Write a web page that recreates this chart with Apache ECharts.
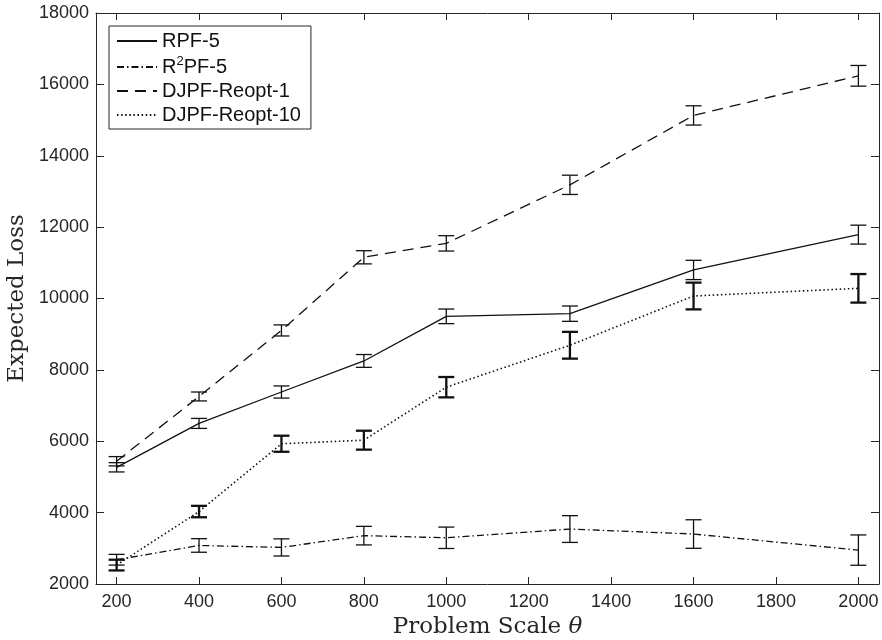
<!DOCTYPE html>
<html>
<head>
<meta charset="utf-8">
<script src="https://cdn.jsdelivr.net/npm/echarts@6/dist/echarts.min.js"></script>
<style>
  html, body { margin: 0; padding: 0; background: #fff; }
  #chart { width: 882px; height: 640px; }
</style>
</head>
<body>
<div id="chart"></div>
<script>
// Problem scale values on the x axis
const scales = [200, 400, 600, 800, 1000, 1300, 1600, 2000];
const xTicks = [200, 400, 600, 800, 1000, 1200, 1400, 1600, 1800, 2000];

// Expected loss (mean) and error-bar half-widths for each method
const rpf5 = [5270, 6500, 7380, 8250, 9500, 9575, 10800, 11790];
const rpf5Err = [130, 140, 170, 180, 205, 215, 270, 265];

const r2pf5 = [2680, 3080, 3025, 3355, 3295, 3540, 3400, 2950];
const r2pf5Err = [150, 190, 240, 260, 300, 375, 400, 425];

const djpf1 = [5440, 7255, 9105, 11155, 11545, 13185, 15130, 16240];
const djpf1Err = [130, 125, 155, 185, 215, 270, 270, 290];

const djpf10 = [2530, 4030, 5930, 6030, 7515, 8690, 10070, 10285];
const djpf10Err = [150, 160, 225, 265, 285, 375, 375, 400];

const names = ['RPF-5', 'R2PF-5', 'DJPF-Reopt-1', 'DJPF-Reopt-10'];

const INK = '#111';
const FRAME = '#262626';

function lineSeries(name, vals, dash, width) {
  return {
    type: 'line',
    name: name,
    data: scales.map((x, i) => [x, vals[i]]),
    symbol: 'none',
    lineStyle: { color: INK, width: width, type: dash },
    itemStyle: { color: INK },
    z: 2,
    animation: false
  };
}

function errorSeries(vals, errs, width) {
  return {
    type: 'custom',
    data: scales.map((x, i) => [x, vals[i] - errs[i], vals[i] + errs[i]]),
    encode: { x: 0, y: [1, 2] },
    z: 3,
    animation: false,
    renderItem: function (params, api) {
      const x = api.value(0);
      const lo = api.coord([x, api.value(1)]);
      const hi = api.coord([x, api.value(2)]);
      const hw = 8;
      const style = { stroke: INK, lineWidth: width, fill: null };
      return {
        type: 'group',
        children: [
          { type: 'line', shape: { x1: lo[0], y1: lo[1], x2: hi[0], y2: hi[1] }, style: style },
          { type: 'line', shape: { x1: lo[0] - hw, y1: lo[1], x2: lo[0] + hw, y2: lo[1] }, style: style },
          { type: 'line', shape: { x1: hi[0] - hw, y1: hi[1], x2: hi[0] + hw, y2: hi[1] }, style: style }
        ]
      };
    }
  };
}

const tickFont = { fontFamily: 'Liberation Sans', fontSize: 18, color: FRAME };
const plain = v => String(v);

const baseX = {
  type: 'value', min: 150, max: 2050,
  axisLine: { show: true, onZero: false, lineStyle: { color: FRAME, width: 1 } },
  axisTick: { show: true, inside: true, length: 7, customValues: xTicks, lineStyle: { color: FRAME } },
  splitLine: { show: false }
};
const baseY = {
  type: 'value', min: 2000, max: 18000, interval: 2000,
  axisLine: { show: true, onZero: false, lineStyle: { color: FRAME, width: 1 } },
  axisTick: { show: true, inside: true, length: 8, lineStyle: { color: FRAME } },
  splitLine: { show: false }
};

const chart = echarts.init(document.getElementById('chart'), null, { renderer: 'canvas' });
chart.setOption({
  backgroundColor: '#fff',
  animation: false,
  grid: { left: 96, right: 3, top: 13, bottom: 56, containLabel: false, outerBoundsMode: 'none' },
  legend: {
    data: names,
    left: 109, top: 26,
    orient: 'vertical',
    itemWidth: 40, itemHeight: 14, itemGap: 4, itemTextGap: 5,
    padding: [5, 10, 4, 7],
    borderColor: FRAME, borderWidth: 1,
    backgroundColor: '#fff',
    selectedMode: false,
    itemStyle: { opacity: 0 },
    formatter: function (name) {
      if (name === 'R2PF-5') return '{n|R}{sup|2}{n|PF-5}';
      return '{n|' + name + '}';
    },
    textStyle: {
      fontFamily: 'Liberation Sans', fontSize: 20, color: INK,
      rich: {
        n: { fontFamily: 'Liberation Sans', fontSize: 20, lineHeight: 20, verticalAlign: 'bottom', color: INK },
        sup: { fontFamily: 'Liberation Sans', fontSize: 13, lineHeight: 13, verticalAlign: 'bottom', padding: [0, 0, 9, 0], color: INK }
      }
    }
  },
  xAxis: [
    Object.assign({}, baseX, {
      position: 'bottom',
      axisLabel: Object.assign({ show: true, margin: 9, customValues: xTicks, formatter: plain }, tickFont),
      name: '{t|Problem Scale }{i|θ}',
      nameLocation: 'middle',
      nameGap: 30,
      nameTextStyle: {
        rich: {
          t: { fontFamily: 'DejaVu Serif', fontSize: 23, color: FRAME },
          i: { fontFamily: 'DejaVu Serif', fontSize: 23, fontStyle: 'italic', color: FRAME }
        }
      }
    }),
    Object.assign({}, baseX, { position: 'top', axisLabel: { show: false } })
  ],
  yAxis: [
    Object.assign({}, baseY, {
      position: 'left',
      axisLabel: Object.assign({ show: true, margin: 7, formatter: plain }, tickFont),
      name: 'Expected Loss',
      nameLocation: 'middle',
      nameGap: 61,
      nameTextStyle: { fontFamily: 'DejaVu Serif', fontSize: 23, color: FRAME }
    }),
    Object.assign({}, baseY, { position: 'right', axisLabel: { show: false } })
  ],
  series: [
    lineSeries('RPF-5', rpf5, 'solid', 1.3),
    lineSeries('R2PF-5', r2pf5, [7, 3, 1.5, 3], 1.3),
    lineSeries('DJPF-Reopt-1', djpf1, [11, 7], 1.3),
    lineSeries('DJPF-Reopt-10', djpf10, [1.5, 2.6], 1.6),
    errorSeries(rpf5, rpf5Err, 1.3),
    errorSeries(r2pf5, r2pf5Err, 1.3),
    errorSeries(djpf1, djpf1Err, 1.3),
    errorSeries(djpf10, djpf10Err, 2.3)
  ]
});
</script>
</body>
</html>
